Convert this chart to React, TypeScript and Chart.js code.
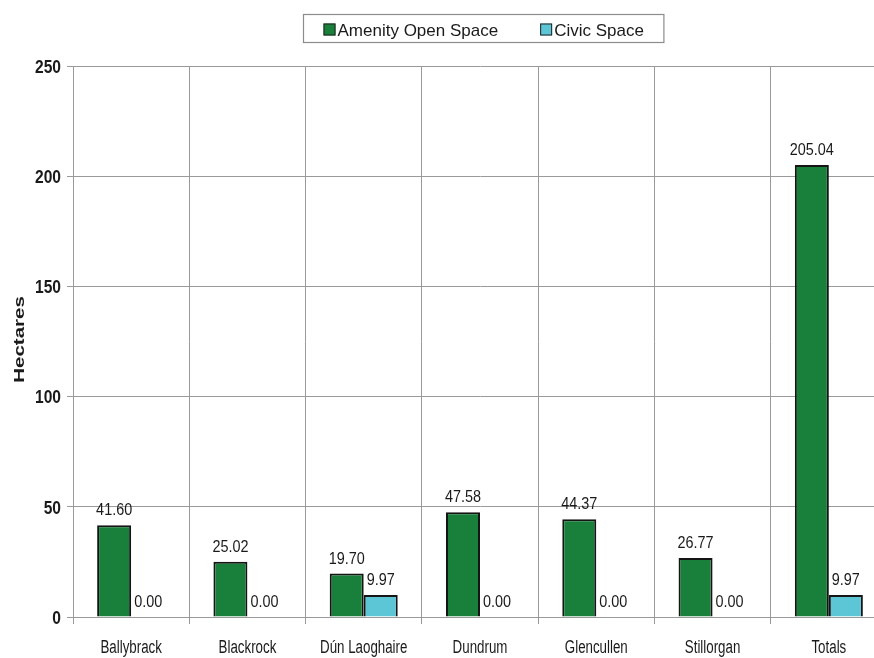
import React, { useEffect, useRef } from "react";
import { Chart, registerables } from "chart.js";

Chart.register(...registerables);

const categories = ["Ballybrack", "Blackrock", "Dún Laoghaire", "Dundrum", "Glencullen", "Stillorgan", "Totals"];
const amenityValues = [41.6, 25.02, 19.7, 47.58, 44.37, 26.77, 205.04];
const civicValues = [0, 0, 9.97, 0, 0, 0, 9.97];
const seriesNames = ["Amenity Open Space", "Civic Space"];
const yTicks = [0, 50, 100, 150, 200, 250];
const yTitle = "Hectares";

const GREEN = "#18803b";
const CYAN = "#5cc6d7";
const TEXT = "#1a1a1a";
const GRID = "#9a9a9a";
const FONT = "'Liberation Sans', Arial, sans-serif";

function drawScaledText(ctx: any, text: string, x: number, y: number, sx: number, align: string) {
  ctx.save();
  ctx.translate(x, y);
  ctx.scale(sx, 1);
  ctx.textAlign = align;
  ctx.textBaseline = "alphabetic";
  ctx.fillText(text, 0, 0);
  ctx.restore();
}

const dataLabelPlugin = {
  id: "dataLabels",
  afterDatasetsDraw(chart: any) {
    const ctx = chart.ctx;
    ctx.save();
    ctx.font = `16px ${FONT}`;
    ctx.fillStyle = TEXT;
    chart.data.datasets.forEach((ds: any, di: number) => {
      const meta = chart.getDatasetMeta(di);
      meta.data.forEach((el: any, i: number) => {
        const v = ds.data[i] as number;
        drawScaledText(ctx, v.toFixed(2), el.x, el.y - 10, 0.9, "center");
      });
    });
    ctx.restore();
  },
};

const axisTextPlugin = {
  id: "axisText",
  afterDraw(chart: any) {
    const ctx = chart.ctx;
    const xs = chart.scales.x;
    const ys = chart.scales.y;
    ctx.save();
    ctx.fillStyle = TEXT;
    // y tick labels
    ctx.font = `bold 19px ${FONT}`;
    yTicks.forEach((v) => {
      const y = ys.getPixelForValue(v);
      drawScaledText(ctx, String(v), ys.right - 12, y + 6.8, 0.82, "right");
    });
    // x category labels
    ctx.font = `18px ${FONT}`;
    categories.forEach((c, i) => {
      const x = xs.getPixelForValue(i);
      drawScaledText(ctx, c, x, xs.top + 36, 0.74, "center");
    });
    // y title
    ctx.font = `bold 20.5px ${FONT}`;
    ctx.save();
    ctx.translate(20, (chart.chartArea.top + chart.chartArea.bottom) / 2 - 2);
    ctx.rotate(-Math.PI / 2);
    ctx.scale(1, 0.75);
    ctx.textAlign = "center";
    ctx.textBaseline = "middle";
    ctx.fillText(yTitle, 0, 0);
    ctx.restore();
    ctx.restore();
  },
};

const boxLegendPlugin = {
  id: "boxLegend",
  afterDraw(chart: any) {
    const ctx = chart.ctx;
    const area = chart.chartArea;
    ctx.save();
    ctx.font = `17px ${FONT}`;
    const sq = 12;
    const gapSq = 2;
    const gapItems = 42;
    const padX = 20;
    const items = chart.data.datasets.map((ds: any) => ({
      label: ds.label,
      color: ds.backgroundColor,
      w: ctx.measureText(ds.label).width,
    }));
    let total = padX * 2;
    items.forEach((it: any, i: number) => {
      total += sq + gapSq + it.w + (i < items.length - 1 ? gapItems : 0);
    });
    const cx = (area.left + area.right) / 2 + 3;
    const left = Math.round(cx - total / 2) + 0.5;
    const top = 14.5;
    const h = 28;
    ctx.strokeStyle = "#8c8c8c";
    ctx.lineWidth = 1.2;
    ctx.strokeRect(left, top, total, h);
    let x = left + padX;
    const cy = 29.5;
    items.forEach((it: any) => {
      ctx.fillStyle = it.color;
      ctx.fillRect(x, cy - sq / 2, sq, sq);
      ctx.strokeStyle = "#222";
      ctx.lineWidth = 1;
      ctx.strokeRect(x + 0.5, cy - sq / 2 + 0.5, sq - 1, sq - 1);
      x += sq + gapSq;
      ctx.fillStyle = TEXT;
      ctx.textBaseline = "alphabetic";
      ctx.textAlign = "left";
      ctx.fillText(it.label, x, cy + 6.5);
      x += it.w + gapItems;
    });
    ctx.restore();
  },
};

export default function App() {
  const ref = useRef<HTMLCanvasElement | null>(null);
  useEffect(() => {
    if (!ref.current) return;
    const chart = new Chart(ref.current, {
      type: "bar",
      data: {
        labels: categories,
        datasets: [
          {
            label: seriesNames[0],
            data: amenityValues,
            backgroundColor: GREEN,
            borderColor: "#151515",
            borderWidth: 2,
          },
          {
            label: seriesNames[1],
            data: civicValues,
            backgroundColor: CYAN,
            borderColor: "#151515",
            borderWidth: 2,
          },
        ],
      },
      options: {
        responsive: false,
        animation: false,
        devicePixelRatio: 1,
        layout: { padding: { top: 66, right: 13, left: 0, bottom: 0 } },
        datasets: { bar: { categoryPercentage: 0.585, barPercentage: 1.0 } },
        plugins: {
          legend: { display: false },
          tooltip: { enabled: false },
        },
        scales: {
          x: {
            grid: { offset: true, color: GRID, tickLength: 7, lineWidth: 1 },
            border: { color: GRID },
            ticks: { display: false },
            afterFit(scale: any) {
              scale.height = 41;
            },
          },
          y: {
            min: 0,
            max: 250,
            afterBuildTicks(scale: any) {
              scale.ticks = yTicks.map((v) => ({ value: v }));
            },
            grid: { color: GRID, tickLength: 6, lineWidth: 1 },
            border: { color: GRID },
            ticks: { display: false },
            afterFit(scale: any) {
              scale.width = 73;
            },
          },
        },
      },
      plugins: [dataLabelPlugin, axisTextPlugin, boxLegendPlugin],
    });
    return () => chart.destroy();
  }, []);
  return (
    <div
      style={{
        position: "absolute",
        left: 0,
        top: 0,
        width: 874,
        height: 658,
        overflow: "hidden",
        background: "#fff",
      }}
    >
      <canvas ref={ref} width={900} height={658} style={{ display: "block" }} />
    </div>
  );
}
